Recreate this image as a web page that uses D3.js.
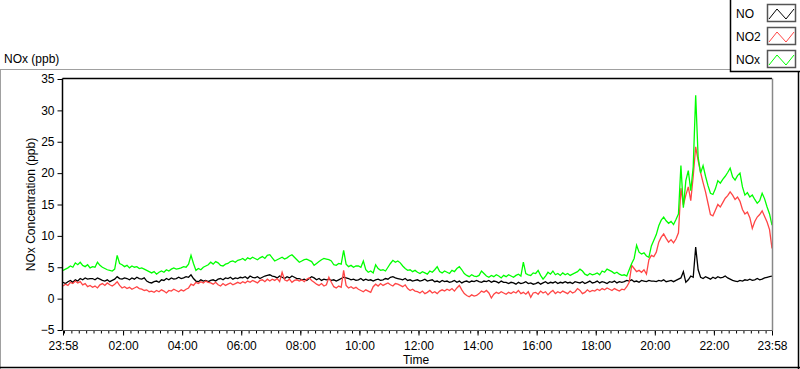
<!DOCTYPE html>
<html>
<head>
<meta charset="utf-8">
<script src="https://cdn.jsdelivr.net/npm/d3@7"></script>
<style>
  body { margin: 0; background: #fff; }
  svg { display: block; font-family: "Liberation Sans", Arial, sans-serif; font-size: 12px; }
</style>
</head>
<body>
<script>

var w = 800;
var h = 369;

// 5 minute samples from 23:58 to 23:58 next day (289 points), ppb
var NO = [
  2.6, 2.4, 2.7, 2.9, 2.6, 3.0, 2.8, 3.2, 3.0, 3.3, 3.1, 3.2,
  3.2, 3.0, 3.3, 3.1, 2.9, 2.8, 3.0, 2.7, 2.9, 3.1, 3.5, 3.2,
  3.1, 3.3, 3.2, 3.0, 3.3, 3.1, 3.4, 3.2, 3.1, 3.3, 2.8, 2.6,
  2.5, 2.7, 2.8, 2.6, 3.0, 2.9, 3.2, 3.0, 3.3, 3.1, 3.2, 3.4,
  3.2, 3.3, 3.5, 3.4, 3.8, 3.2, 2.8, 2.7, 3.0, 2.8, 2.9, 2.7,
  2.9, 3.0, 2.8, 3.1, 3.2, 3.0, 3.3, 3.2, 3.4, 3.1, 3.3, 3.2,
  3.4, 3.3, 3.5, 3.2, 3.6, 3.4, 3.3, 3.5, 3.2, 3.4, 3.6, 3.7,
  3.8, 3.6, 3.5, 3.3, 3.6, 3.4, 3.2, 3.5, 3.3, 3.6, 3.4, 3.2,
  3.2, 3.0, 3.1, 2.9, 3.2, 3.5, 3.3, 3.0, 3.2, 2.9, 3.1, 3.0,
  3.1, 2.9, 3.0, 2.8, 3.0, 3.2, 3.4, 3.3, 3.2, 3.0, 3.1, 2.9,
  3.0, 3.2, 2.9, 3.1, 2.9, 3.0, 2.8, 3.0, 3.1, 2.9, 3.0, 3.2,
  3.1, 3.4, 3.5, 3.3, 3.2, 3.1, 3.0, 3.2, 2.9, 3.0, 2.8, 2.9,
  3.0, 2.8, 2.9, 3.1, 2.8, 2.9, 3.0, 2.7, 2.8, 2.6, 2.9, 2.7,
  2.8, 2.6, 2.7, 2.9, 2.6, 2.8, 2.5, 2.7, 2.8, 2.6, 2.8, 2.7,
  2.9, 2.7, 2.6, 2.8, 2.7, 2.9, 2.6, 2.8, 2.7, 2.5, 2.8, 2.6,
  2.6, 2.4, 2.6, 2.5, 2.3, 2.6, 2.4, 2.5, 2.7, 2.4, 2.5, 2.3,
  2.4, 2.6, 2.3, 2.5, 2.7, 2.4, 2.6, 2.5, 2.7, 2.4, 2.6, 2.5,
  2.7, 2.5, 2.6, 2.4, 2.7, 2.6, 2.5, 2.7, 2.4, 2.6, 2.8, 2.5,
  2.6, 2.8, 2.5, 2.7, 2.6, 2.4, 2.7, 2.6, 2.8, 2.5, 2.7, 2.6,
  2.7, 2.9, 2.8, 3.0, 2.7, 2.8, 2.6, 2.9, 2.8, 2.7, 2.9, 2.8,
  2.8, 2.7, 2.9, 2.8, 3.0, 2.7, 2.8, 2.9, 2.7, 2.9, 3.1, 3.3,
  4.3, 2.6, 3.0, 3.6, 3.4, 8.2, 4.6, 3.4, 3.2, 3.5, 3.3, 3.1,
  3.4, 3.2, 3.5, 3.3, 3.4, 3.6, 3.3, 3.1, 2.9, 2.8, 2.7, 2.9,
  2.8, 3.0, 2.9, 3.1, 2.9, 3.0, 3.2, 3.0, 3.1, 3.3, 3.4, 3.5, 3.6
];

var NO2 = [
  2.0, 2.3, 2.1, 2.6, 2.4, 2.8, 2.5, 2.7, 2.2, 2.4, 1.9, 2.1,
  1.8, 2.0, 1.7, 2.2, 2.4, 2.1, 2.5, 2.2, 2.0, 2.3, 2.7, 2.1,
  1.7, 1.9, 1.6, 1.8, 1.5, 1.7, 1.9, 1.6, 1.5, 1.3, 1.4, 1.1,
  1.2, 1.0, 1.3, 1.1, 1.4, 1.2, 0.9, 1.3, 1.2, 1.5, 1.3, 1.1,
  1.4, 1.2, 1.5, 1.7, 2.3, 2.1, 2.6, 2.4, 2.7, 2.5, 2.8, 2.6,
  2.5, 2.3, 2.6, 2.2, 2.0, 2.4, 2.1, 2.3, 2.5, 2.2, 2.4, 2.6,
  2.4, 2.7, 2.5, 2.8, 2.6, 2.9, 2.7, 2.5, 2.9, 3.0, 2.7, 3.1,
  2.8, 3.1, 2.9, 3.2, 2.7, 4.2, 3.0, 2.8, 3.1, 2.6, 2.9, 3.0,
  2.8, 3.0, 2.7, 3.1, 3.3, 2.9, 2.6, 2.3, 2.1, 2.4, 2.0, 2.2,
  3.4, 2.6, 1.9, 1.7, 2.0, 1.8, 4.5, 2.1, 1.7, 1.9, 1.6, 1.8,
  1.5, 1.3, 1.1, 1.4, 1.2, 1.0, 1.9, 2.3, 2.0, 2.4, 2.1, 2.3,
  2.5, 2.2, 2.0, 2.4, 2.3, 2.1, 1.9, 2.2, 1.6, 1.3, 1.5, 1.2,
  1.1, 0.9, 1.2, 0.8, 1.0, 1.3, 0.9, 1.1, 0.8, 1.2, 1.4, 1.2,
  1.5, 1.3, 1.6, 1.2, 1.7, 2.1, 1.4, 0.8, 0.5, 0.3, 0.6, 0.4,
  0.5, 0.8, 1.2, 1.0, 1.3, 0.9, 0.1, 0.7, 1.0, 0.8, 1.1, 0.9,
  0.7, 1.0, 0.8, 1.1, 0.9, 1.3, 0.8, 1.0, 0.7, 1.1, 0.2, 0.9,
  1.0, 0.7, 1.2, 0.9, 1.1, 0.6, 1.0, 1.3, 0.8, 1.1, 0.9, 1.2,
  1.0, 0.8, 1.2, 0.9, 1.1, 1.6, 1.3, 0.8, 1.0, 1.4, 1.1, 1.3,
  1.2, 1.5, 1.3, 1.6, 1.4, 1.7, 1.5, 1.3, 1.6, 1.4, 1.2, 1.5,
  1.4, 1.9, 2.6, 5.3, 4.8, 4.3, 4.5, 4.2, 4.6, 3.9, 6.2, 6.9,
  6.7, 7.4, 9.0, 9.8, 10.3, 9.6, 9.0, 9.4, 8.9, 9.5, 10.5, 17.6,
  14.9, 16.5, 17.8, 15.6, 19.5, 24.2, 22.0, 20.1, 18.5, 17.0, 15.2, 13.4,
  13.2, 14.1, 15.0, 14.6, 15.3, 16.0, 16.4, 17.0, 16.5, 15.8, 16.2, 15.5,
  14.2, 13.5, 13.8, 12.9, 11.2, 12.3, 13.0, 13.4, 14.0, 13.1, 12.2, 11.0, 8.0
];

var NOx = [
  4.5, 4.7, 4.9, 5.2, 5.0, 5.7, 5.4, 5.8, 5.3, 5.1, 5.4, 4.9,
  5.1, 5.0, 5.8, 5.3, 5.0, 4.8, 4.6, 4.5, 4.4, 4.7, 6.9, 5.6,
  5.4, 5.1, 5.3, 4.9, 5.2, 5.0, 5.1, 4.8, 4.9, 4.7, 4.5, 4.3,
  4.1, 4.3, 3.9, 4.2, 4.4, 4.2, 4.6, 4.4, 4.7, 4.9, 4.7, 4.8,
  4.9, 5.1, 5.0, 5.5, 6.9, 5.6, 4.5, 4.8, 4.6, 5.0, 5.2, 5.4,
  5.8, 5.5, 5.9, 5.7, 5.3, 5.2, 5.5, 5.6, 5.9, 6.0, 5.8, 6.1,
  6.2, 6.4, 6.1, 6.5, 6.3, 6.6, 6.4, 6.2, 6.5, 6.7, 6.4, 6.9,
  7.0, 6.5, 6.0, 6.2, 6.4, 6.6, 6.3, 6.5, 6.8, 7.0, 6.6, 6.2,
  5.8, 6.0, 6.2, 6.3, 6.1, 5.9, 5.3, 5.6, 5.9, 6.2, 6.4, 6.3,
  6.2, 6.0, 5.4, 5.3, 5.6, 5.5, 7.7, 5.5, 5.1, 5.3, 5.0, 5.2,
  5.2, 5.0, 6.0, 4.6, 4.2, 4.4, 4.1, 5.4, 4.8, 4.5, 4.6, 4.4,
  5.0, 5.6, 6.1, 5.8, 6.0, 5.7, 5.2, 4.8, 4.5, 4.6, 4.3, 4.5,
  4.2, 4.0, 4.3, 4.1, 3.9, 4.4, 4.2, 4.6, 5.1, 4.3, 4.1, 4.4,
  4.2, 4.0, 4.5, 4.3, 4.8, 5.1, 4.6, 4.0, 3.7, 3.5, 3.8, 3.6,
  3.5, 3.7, 4.4, 4.0, 3.6, 3.4, 3.7, 3.5, 3.8, 3.6, 3.3, 3.7,
  3.5, 3.8, 3.6, 3.4, 3.7, 3.9, 3.6, 5.8, 4.0, 3.8, 3.7, 4.1,
  4.0, 4.5, 3.7, 3.1, 3.6, 4.2, 3.9, 4.4, 3.8, 4.0, 3.7, 4.1,
  3.8, 4.0, 3.7, 3.9, 4.1, 4.3, 4.7, 4.4, 3.9, 3.7, 4.0, 3.8,
  3.9, 4.1, 3.8, 4.4, 4.2, 4.7, 4.5, 4.3, 4.0, 4.2, 3.9, 3.7,
  3.8, 3.6, 4.6, 5.6, 6.4, 8.5, 7.4, 7.1, 7.3, 6.8, 6.6, 8.4,
  9.3, 10.2, 11.6, 12.5, 13.0, 12.4, 12.0, 12.3, 11.8, 12.6, 13.5, 21.2,
  14.5, 18.8, 20.4, 17.2, 21.0, 32.4, 22.5, 20.0, 21.2, 19.5, 18.0, 16.8,
  16.6, 17.5, 18.8, 18.4, 19.0, 19.5, 20.1, 20.8, 19.4, 18.9, 19.6, 20.0,
  17.8, 16.5, 16.9, 16.2, 16.5, 15.8, 15.2, 15.6, 16.8, 15.9, 14.6, 13.5, 11.7
];

var seriesNames = ["NO", "NO2", "NOx"];
var seriesColors = ["#000000", "#ff4545", "#00ff00"];
var yTicks = [35, 30, 25, 20, 15, 10, 5, 0, -5];

var start = new Date(2020, 0, 1, 23, 58);
var end = new Date(2020, 0, 2, 23, 58);
var step = 5; // minutes between samples

var m = {left: 63, top: 79, right: 772, bottom: 330};

var svg = d3.select("body").append("svg")
    .attr("width", w)
    .attr("height", h);

var x = d3.scaleTime().domain([start, end]).range([m.left, m.right]);
var y = d3.scaleLinear().domain([-5, 35]).range([m.bottom, m.top]);

// outer panel frame
svg.append("line").attr("x1", 0).attr("x2", 730).attr("y1", 69.5).attr("y2", 69.5).style("stroke", "#a0a0a0");
svg.append("line").attr("x1", 0.5).attr("x2", 0.5).attr("y1", 69).attr("y2", 369).style("stroke", "#a0a0a0");
svg.append("line").attr("x1", 0).attr("x2", 800).attr("y1", 367.5).attr("y2", 367.5).style("stroke", "#000").style("stroke-width", 1.5);
svg.append("line").attr("x1", 798.5).attr("x2", 798.5).attr("y1", 72).attr("y2", 369).style("stroke", "#000").style("stroke-width", 1.5);

svg.append("text")
    .attr("x", 4)
    .attr("y", 63)
    .text("NOx (ppb)");

// plot area
svg.append("clipPath").attr("id", "plotclip")
  .append("rect")
    .attr("x", m.left)
    .attr("y", m.top)
    .attr("width", m.right - m.left)
    .attr("height", m.bottom - m.top);

// y axis
var yAxis = d3.axisLeft(y).tickValues(yTicks).tickSize(5).tickPadding(3);
var gy = svg.append("g")
    .attr("transform", "translate(" + (m.left - 0.5) + ",0)")
    .call(yAxis);
gy.select(".domain").remove();
gy.selectAll("text").style("font-size", "12px").style("font-family", "inherit").attr("fill", "#000");

svg.append("text")
    .attr("transform", "translate(35," + ((m.top + m.bottom) / 2) + ") rotate(-90)")
    .attr("text-anchor", "middle")
    .text("NOx Concentration (ppb)");

// x axis: quarter hour minor ticks, 2 hour labelled ticks
var minor = d3.timeMinute.every(15).range(start, end);
var major = [start].concat(d3.timeHour.every(2).range(d3.timeMinute.offset(start, 5), end)).concat([end]);

var gxMinor = svg.append("g")
    .attr("transform", "translate(0," + (m.bottom + 0.5) + ")")
    .call(d3.axisBottom(x).tickValues(minor).tickSize(3).tickFormat(""));
gxMinor.select(".domain").remove();

var gx = svg.append("g")
    .attr("transform", "translate(0," + (m.bottom + 0.5) + ")")
    .call(d3.axisBottom(x).tickValues(major).tickSize(5).tickPadding(6).tickFormat(d3.timeFormat("%H:%M")));
gx.select(".domain").remove();
gx.selectAll("text").style("font-size", "12px").style("font-family", "inherit").attr("fill", "#000");

svg.append("text")
    .attr("x", 416)
    .attr("y", 364)
    .attr("text-anchor", "middle")
    .text("Time");

// data lines
var rows = NO.map(function(v, i) {
  return {t: d3.timeMinute.offset(start, i * step), no: v, no2: NO2[i], nox: NOx[i]};
});
var keys = ["no", "no2", "nox"];

var plot = svg.append("g").attr("clip-path", "url(#plotclip)");

keys.forEach(function(k, i) {
  var line = d3.line()
      .x(function(d) { return x(d.t); })
      .y(function(d) { return y(d[k]); });
  plot.append("path")
      .datum(rows)
      .attr("d", line)
      .style("fill", "none")
      .style("stroke", seriesColors[i])
      .style("stroke-width", 1.3)
      .style("stroke-linejoin", "miter");
});

// plot frame (dark top/left, grey right/bottom)
svg.append("line").attr("x1", m.left - 0.5).attr("x2", m.right).attr("y1", m.top - 0.5).attr("y2", m.top - 0.5).style("stroke", "#000").style("stroke-width", 1.5);
svg.append("line").attr("x1", m.left - 0.5).attr("x2", m.left - 0.5).attr("y1", m.top - 0.5).attr("y2", m.bottom + 0.5).style("stroke", "#000").style("stroke-width", 1.5);
svg.append("line").attr("x1", m.right + 0.5).attr("x2", m.right + 0.5).attr("y1", m.top - 0.5).attr("y2", m.bottom + 0.5).style("stroke", "#888").style("stroke-width", 1.5);
svg.append("line").attr("x1", m.left - 0.5).attr("x2", m.right + 0.5).attr("y1", m.bottom + 0.5).attr("y2", m.bottom + 0.5).style("stroke", "#555").style("stroke-width", 1);

// legend
var lg = svg.append("g");
lg.append("rect")
    .attr("x", 730.5)
    .attr("y", -2)
    .attr("width", 72)
    .attr("height", 73.5)
    .style("fill", "#fff")
    .style("stroke", "#000")
    .style("stroke-width", 1.5);

var items = lg.selectAll(".legend-item")
    .data(seriesNames)
    .enter()
  .append("g")
    .attr("class", "legend-item")
    .attr("transform", function(d, i) { return "translate(0," + (i * 23) + ")"; });

items.append("text")
    .attr("x", 736)
    .attr("y", 18)
    .text(function(d) { return d; });

items.append("rect")
    .attr("x", 767.5)
    .attr("y", 4.5)
    .attr("width", 28)
    .attr("height", 17)
    .style("fill", "#fff")
    .style("stroke", "#555")
    .style("stroke-width", 1.5);

items.append("path")
    .attr("d", "M769,19L777,9L786,19L794,9")
    .style("fill", "none")
    .style("stroke", function(d, i) { return seriesColors[i]; })
    .style("stroke-width", 1);

</script>
</body>
</html>
